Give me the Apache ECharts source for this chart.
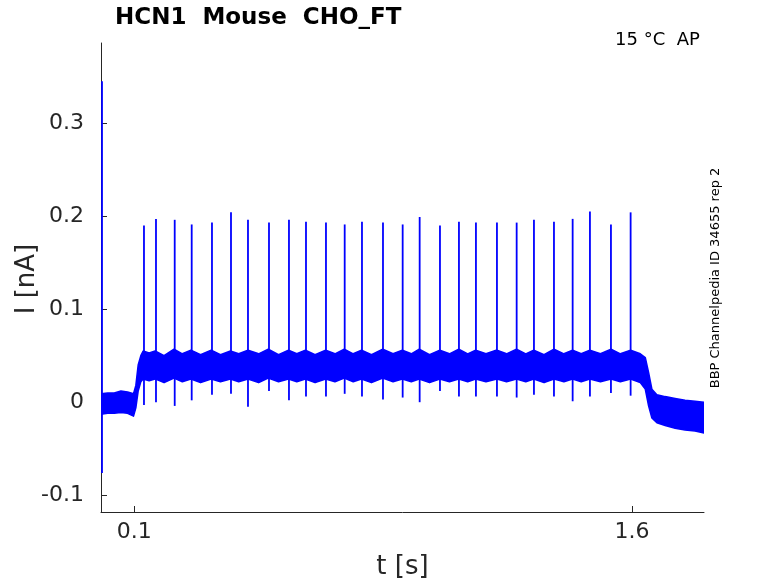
<!DOCTYPE html>
<html>
<head>
<meta charset="utf-8">
<script src="https://cdn.jsdelivr.net/npm/echarts@6/dist/echarts.min.js"></script>
<style>
html,body{margin:0;padding:0;background:#fff;}
#c{width:778px;height:583px;}
</style>
</head>
<body>
<div id="c"></div>
<script>
// ---- data ----
const xTicks = [0.1, 1.6];
const yTicks = [-0.1, 0, 0.1, 0.2, 0.3];

// noise envelope of the recorded current (upper / lower edge), nA
const envT = [0.000,0.020,0.040,0.060,0.080,0.098,0.105,0.112,0.120,0.127,0.145,0.163,0.190,0.220,0.245,0.271,0.300,0.332,0.360,0.390,0.415,0.443,0.475,0.504,0.535,0.565,0.590,0.616,0.645,0.677,0.705,0.733,0.760,0.785,0.815,0.849,0.880,0.908,0.935,0.959,0.990,1.021,1.050,1.078,1.105,1.129,1.160,1.193,1.222,1.252,1.280,1.304,1.335,1.365,1.395,1.421,1.447,1.473,1.505,1.537,1.565,1.596,1.625,1.640,1.650,1.660,1.675,1.700,1.730,1.760,1.790,1.817];
const envHi = [0.009,0.010,0.010,0.012,0.011,0.009,0.018,0.040,0.050,0.055,0.053,0.055,0.050,0.057,0.052,0.056,0.051,0.056,0.051,0.055,0.052,0.056,0.052,0.057,0.051,0.056,0.052,0.056,0.051,0.056,0.052,0.057,0.052,0.056,0.051,0.057,0.052,0.056,0.052,0.057,0.051,0.056,0.052,0.057,0.052,0.056,0.052,0.056,0.052,0.057,0.052,0.056,0.051,0.057,0.052,0.056,0.052,0.056,0.052,0.057,0.052,0.056,0.052,0.048,0.032,0.014,0.008,0.006,0.004,0.002,0.001,0.000];
const envLo = [-0.013,-0.012,-0.012,-0.011,-0.012,-0.015,-0.006,0.012,0.022,0.025,0.023,0.025,0.021,0.026,0.022,0.025,0.021,0.025,0.022,0.025,0.022,0.025,0.021,0.026,0.022,0.025,0.022,0.025,0.021,0.025,0.022,0.026,0.022,0.025,0.021,0.026,0.022,0.025,0.022,0.025,0.021,0.025,0.022,0.025,0.022,0.025,0.022,0.025,0.022,0.025,0.022,0.025,0.021,0.025,0.022,0.025,0.022,0.025,0.022,0.025,0.022,0.025,0.021,0.014,-0.004,-0.017,-0.022,-0.025,-0.028,-0.030,-0.031,-0.033];

// action-potential currents: time (s), peak (nA), trough (nA)
const spikeT = [0.003,0.1295,0.1657,0.2221,0.2733,0.3344,0.3917,0.4429,0.5062,0.5664,0.6177,0.6779,0.7343,0.7864,0.8497,0.9090,0.9602,1.0214,1.0786,1.1298,1.1931,1.2525,1.3046,1.3649,1.4212,1.4733,1.5366,1.5959];
const spikePeak = [0.345,0.190,0.197,0.196,0.191,0.193,0.204,0.196,0.193,0.196,0.194,0.193,0.191,0.194,0.193,0.191,0.199,0.190,0.194,0.193,0.193,0.193,0.196,0.194,0.197,0.205,0.191,0.204];
const spikeDip = [-0.076,-0.003,0.000,-0.004,0.002,0.008,0.009,-0.005,0.012,0.002,0.006,0.006,0.009,0.006,0.003,0.005,0.000,0.012,0.006,0.006,0.006,0.005,0.008,0.006,0.001,0.006,0.010,0.007];

const titleText = 'HCN1  Mouse  CHO_FT';
const condText = '15 °C  AP';
const sideText = 'BBP Channelpedia ID 34655 rep 2';
const xName = 't [s]';
const yName = 'I [nA]';

const FONT = 'DejaVu Sans';
const AX = '#262626';
const BLUE = '#0000ff';

const chart = echarts.init(document.getElementById('c'), null, {renderer: 'canvas'});

chart.setOption({
  animation: false,
  backgroundColor: '#ffffff',
  grid: {left: 101, right: 74, top: 43, bottom: 71, containLabel: false},
  xAxis: {
    type: 'value', min: 0, max: 1.817,
    axisLine: {show: true, onZero: false, lineStyle: {color: AX, width: 1}},
    axisTick: {show: true, inside: true, length: 6, customValues: xTicks, lineStyle: {color: AX}},
    axisLabel: {show: true, customValues: xTicks, margin: 9, fontFamily: FONT, fontSize: 22, color: AX,
      formatter: v => String(v)},
    splitLine: {show: false}
  },
  yAxis: {
    type: 'value', min: -0.118, max: 0.386,
    axisLine: {show: true, onZero: false, lineStyle: {color: AX, width: 1}},
    axisTick: {show: true, inside: true, length: 6, customValues: yTicks, lineStyle: {color: AX}},
    axisLabel: {show: true, customValues: yTicks, margin: 17, fontFamily: FONT, fontSize: 22, color: AX,
      formatter: v => String(v)},
    splitLine: {show: false}
  },
  series: [
    {
      type: 'custom',
      silent: true,
      clip: true,
      data: [[envT[0], envHi[0]]],
      renderItem: function (params, api) {
        const pts = [];
        for (let i = 0; i < envT.length; i++) pts.push(api.coord([envT[i], envHi[i]]));
        for (let i = envT.length - 1; i >= 0; i--) pts.push(api.coord([envT[i], envLo[i]]));
        return {type: 'polygon', shape: {points: pts},
          style: {fill: BLUE, stroke: BLUE, lineWidth: 1.5, lineJoin: 'round'}};
      }
    },
    {
      type: 'custom',
      silent: true,
      clip: true,
      encode: {x: 0, y: [1, 2]},
      data: spikeT.map((t, i) => [t, spikePeak[i], spikeDip[i]]),
      renderItem: function (params, api) {
        const a = api.coord([api.value(0), api.value(1)]);
        const b = api.coord([api.value(0), api.value(2)]);
        return {type: 'line', shape: {x1: a[0], y1: a[1], x2: b[0], y2: b[1]},
          style: {stroke: BLUE, lineWidth: 1.8}};
      }
    }
  ],
  graphic: [
    {type: 'text', x: 115, y: 18.5, style: {text: titleText, fontFamily: FONT, fontWeight: 'bold', fontSize: 23, fill: '#000', textVerticalAlign: 'middle'}},
    {type: 'text', x: 615, y: 40, style: {text: condText, fontFamily: FONT, fontSize: 18, fill: '#000', textVerticalAlign: 'middle'}},
    {type: 'text', x: 716, y: 278, rotation: Math.PI / 2,
      style: {text: sideText, fontFamily: FONT, fontSize: 13, fill: '#000', textAlign: 'center', textVerticalAlign: 'middle'}},
    {type: 'text', x: 402.5, y: 567, style: {text: xName, fontFamily: FONT, fontSize: 26, fill: AX, textAlign: 'center', textVerticalAlign: 'middle'}},
    {type: 'text', x: 27, y: 279, rotation: Math.PI / 2,
      style: {text: yName, fontFamily: FONT, fontSize: 26, fill: AX, textAlign: 'center', textVerticalAlign: 'middle'}}
  ]
});
</script>
</body>
</html>
